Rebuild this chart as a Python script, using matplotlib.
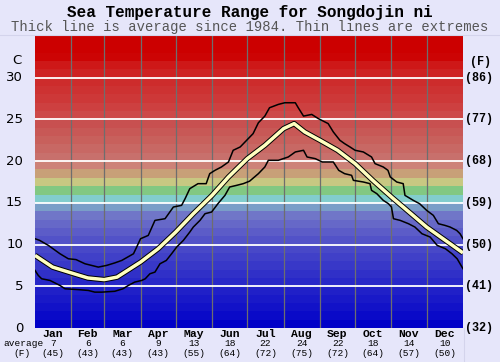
import numpy as np
import matplotlib
matplotlib.use('Agg')
import matplotlib.pyplot as plt
import matplotlib.transforms as mtransforms
from matplotlib.lines import Line2D

# ----------------------------------------------------------------------
#  Data
# ----------------------------------------------------------------------
months = ['Jan', 'Feb', 'Mar', 'Apr', 'May', 'Jun', 'Jul', 'Aug', 'Sep', 'Oct', 'Nov', 'Dec']
month_days = [31, 28, 31, 30, 31, 30, 31, 31, 30, 31, 30, 31]
avg_c = [7, 6, 6, 9, 13, 18, 22, 24, 22, 18, 14, 10]
avg_f = [45, 43, 43, 43, 55, 64, 72, 75, 72, 64, 57, 50]

# average curve (day of year, deg C)
avg_day = [0, 15, 31, 45, 59, 70, 80, 90, 105, 120, 135, 151, 165, 181, 196,
           212, 221, 230, 243, 258, 273, 288, 304, 319, 334, 350, 365]
avg_temp = [8.7, 7.3, 6.6, 6.0, 5.8, 6.1, 7.0, 7.9, 9.5, 11.5, 13.7, 15.9, 18.1, 20.3, 21.9,
            23.9, 24.5, 23.5, 22.5, 21.3, 19.7, 17.7, 15.7, 13.9, 12.1, 10.5, 9.0]

# maximum extreme
max_day = [0, 4, 11.4, 21.3, 28.4, 35, 42.6, 54, 61, 68, 74, 84, 86.7, 90, 96.6, 102.3,
           110.9, 118, 125, 128, 132, 139, 146, 149, 153.5, 159, 165, 169, 175, 180.5,
           186, 190.5, 196, 200, 207.5, 213, 222, 224.5, 229, 236, 241.6, 250, 254.4,
           260, 264, 268.6, 273, 280, 287, 290, 297, 301, 303, 308.5, 314, 315.5,
           322.6, 328, 334, 339.7, 344, 349.6, 354, 359.6, 362.5, 365]
max_temp = [10.7, 10.5, 9.9, 8.9, 8.3, 8.2, 7.7, 7.3, 7.5, 7.8, 8.1, 8.9, 9.7, 10.7, 11.1, 12.9,
            13.1, 14.5, 14.7, 15.5, 16.7, 17.3, 17.3, 18.5, 18.9, 19.3, 19.9, 21.3, 21.7, 22.5,
            23.3, 24.6, 25.4, 26.4, 26.8, 27.0, 27.0, 26.4, 25.4, 25.6, 25.1, 24.5, 23.5,
            22.5, 22.1, 21.7, 21.3, 21.1, 20.5, 19.7, 19.3, 18.9, 18.1, 17.5, 17.3, 15.9,
            15.3, 14.9, 14.1, 13.5, 12.5, 12.3, 12.1, 11.7, 11.3, 10.7]

# minimum extreme
min_day = [0, 2.8, 5.7, 12.8, 21.3, 25.6, 37, 45.5, 51, 57, 68, 75, 79.6, 85, 91, 94,
           98, 102.3, 106.6, 112, 116.5, 120.8, 126.5, 132, 135, 140.7, 145, 150.6, 156,
           162, 166, 172, 177.6, 183, 190.5, 196, 199, 207.5, 216, 222, 229, 232, 239,
           245, 254.4, 259, 264, 270, 271.5, 280, 285.7, 287, 291.5, 297, 301.4, 304,
           305.7, 311.4, 318.5, 324, 330, 337, 343, 350, 355.6, 360, 362.5, 365]
min_temp = [6.9, 6.3, 5.9, 5.7, 5.1, 4.7, 4.6, 4.5, 4.3, 4.3, 4.4, 4.7, 5.1, 5.5, 5.7, 5.9,
            6.5, 6.7, 7.7, 8.1, 8.9, 9.7, 10.5, 11.5, 12.1, 12.9, 13.7, 13.9, 14.9,
            15.9, 16.9, 17.1, 17.3, 17.6, 18.5, 19.3, 20.1, 20.1, 20.5, 21.1, 21.3, 20.5, 20.3,
            19.9, 19.9, 18.9, 18.5, 18.3, 17.7, 17.5, 17.3, 16.5, 16.1, 15.3, 14.9, 14.5,
            13.1, 12.9, 12.5, 12.1, 11.3, 10.9, 9.9, 9.5, 8.9, 8.3, 7.7, 7.1]

c_ticks = [0, 5, 10, 15, 20, 25, 30]
f_labels = ['(32)', '(41)', '(50)', '(59)', '(68)', '(77)', '(86)']

# background colour for each 1 degree band, 0..35 C
band_rgb = [(0, 0, 200), (10, 10, 200), (18, 18, 200), (25, 25, 200), (32, 32, 200),
            (40, 40, 200), (48, 48, 200), (56, 56, 200), (64, 64, 200), (72, 72, 200),
            (82, 82, 200), (92, 92, 200), (102, 104, 200), (112, 118, 200), (122, 158, 200),
            (130, 205, 205), (130, 200, 130), (200, 200, 130), (200, 160, 120), (205, 130, 120),
            (200, 112, 108), (200, 104, 100), (200, 96, 92), (200, 88, 86), (200, 80, 80),
            (205, 72, 72), (205, 64, 64), (205, 56, 56), (205, 50, 50), (205, 44, 44),
            (206, 34, 34), (206, 24, 24), (204, 4, 4), (204, 0, 0), (204, 0, 0)]

# ----------------------------------------------------------------------
#  Plot
# ----------------------------------------------------------------------
bg = '#e6e6fa'
fig = plt.figure(figsize=(5.0, 3.62), dpi=100, facecolor=bg)
ax = fig.add_axes([35/500, 34/362, 428/500, 292/362])

for i, rgb in enumerate(band_rgb):
    ax.axhspan(i, i + 1, color=np.array(rgb)/255.0, lw=0, zorder=0)

edges = np.cumsum([0] + month_days)
for e in edges[1:-1]:
    ax.axvline(e, color='#6e6e6e', lw=0.9, zorder=1)
for t in c_ticks[1:]:
    ax.axhline(t, color='white', lw=1.3, zorder=1)

ax.plot(max_day, max_temp, color='black', lw=1.1, zorder=3)
ax.plot(min_day, min_temp, color='black', lw=1.1, zorder=3)
ax.plot(avg_day, avg_temp, color='black', lw=3.9, zorder=4, solid_capstyle='butt')
ax.plot(avg_day, avg_temp, color='#ffffc0', lw=2.5, zorder=5, solid_capstyle='butt')

ax.set_xlim(0, 365)
ax.set_ylim(0, 35)
ax.set_xticks([])
ax.set_yticks([])
for s in ax.spines.values():
    s.set_visible(False)

# faint frame lines around the label areas
fig.add_artist(Line2D([0, 1], [1 - 35/362, 1 - 35/362], transform=fig.transFigure,
                      color='#d4d4ec', lw=0.8))
fig.add_artist(Line2D([463.5/500, 463.5/500], [0, 34/362], transform=fig.transFigure,
                      color='#d4d4ec', lw=0.8))

# left C labels, right F labels
trans_l = mtransforms.blended_transform_factory(fig.transFigure, ax.transData)
for t in c_ticks:
    fig.text(23/500, t, str(t), transform=trans_l, ha='right', va='center',
             fontsize=9.5, family='DejaVu Sans', color='black')
for t, lab in zip(c_ticks, f_labels):
    fig.text(465/500, t, lab, transform=trans_l, ha='left', va='center',
             fontsize=8.5, family='Liberation Mono', weight='bold')
fig.text(17/500, 1 - 61/362, 'C', ha='center', va='center', fontsize=9.5, family='DejaVu Sans')
fig.text(481/500, 1 - 62/362, '(F)', ha='center', va='center', fontsize=8.5,
         family='Liberation Mono', weight='bold')

# month labels and monthly averages
mids = edges[:-1] + np.array(month_days)/2.0
trans_b = mtransforms.blended_transform_factory(ax.transData, fig.transFigure)
for m, x, c, f in zip(months, mids, avg_c, avg_f):
    fig.text(x, 1 - 334/362, m, transform=trans_b, ha='center', va='center',
             fontsize=8.2, family='Liberation Mono', weight='bold')
    fig.text(x, 1 - 343.5/362, str(c), transform=trans_b, ha='center', va='center',
             fontsize=6.8, family='Liberation Mono')
    fig.text(x, 1 - 353/362, '(%d)' % f, transform=trans_b, ha='center', va='center',
             fontsize=6.8, family='Liberation Mono')
fig.text(24/500, 1 - 343.5/362, 'average', ha='center', va='center', fontsize=6.8,
         family='Liberation Mono')
fig.text(22/500, 1 - 353/362, '(F)', ha='center', va='center', fontsize=6.8,
         family='Liberation Mono')

# title
fig.text(0.5, 1 - 12/362, 'Sea Temperature Range for Songdojin ni', ha='center', va='center',
         fontsize=11.5, family='Liberation Mono', weight='bold')
fig.text(0.5, 1 - 27.5/362, 'Thick line is average since 1984. Thin lines are extremes',
         ha='center', va='center', fontsize=10, family='Liberation Mono', color='#555555')

fig.savefig('out.png', dpi=100, facecolor=bg)
